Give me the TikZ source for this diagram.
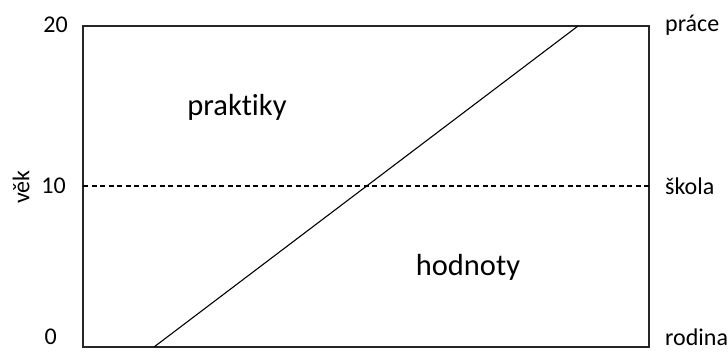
\documentclass[tikz,border=0pt]{standalone}
\usepackage{fontspec}
\setmainfont{Carlito}[Ligatures={NoCommon,NoRequired,NoContextual}]
\tikzset{
  axlabel/.style={inner sep=0pt, font=\fontsize{24}{26}\selectfont},
  biglabel/.style={inner sep=0pt, font=\fontsize{30.5}{33}\selectfont},
  frame/.style={draw=black!85, line width=1.4pt},
  diag/.style={draw=black, line width=1.1pt},
  dashline/.style={draw=black, line width=1.1pt, dash pattern=on 5pt off 3.5pt}
}
\begin{document}
\begin{tikzpicture}[x=1pt,y=-1pt]
\useasboundingbox (0,0) rectangle (728,351);
\coordinate (bl) at (83,347);
\coordinate (tr) at (649,26);
\coordinate (ml) at (83,186);
\coordinate (mr) at (649,186);
\coordinate (ds) at (154,347);
\coordinate (de) at (578,26);
\draw[frame] (bl) rectangle (tr);
\draw[dashline] (ml) -- (mr);
\draw[diag] (ds) -- (de);
\node[axlabel, anchor=east] (y20) at (68,25) {20};
\node[axlabel, anchor=east] (y10) at (66,186) {10};
\node[axlabel, anchor=east] (y0) at (57,337) {0};
\node[axlabel, rotate=90] (vek) at (21,187) {věk};
\node[axlabel, anchor=west] (prace) at (665,25) {práce};
\node[axlabel, anchor=west] (skola) at (665,186) {škola};
\node[axlabel, anchor=west] (rodina) at (665,337) {rodina};
\node[biglabel] (prak) at (237,107) {praktiky};
\node[biglabel] (hod) at (468,267) {hodnoty};
\end{tikzpicture}
\end{document}
